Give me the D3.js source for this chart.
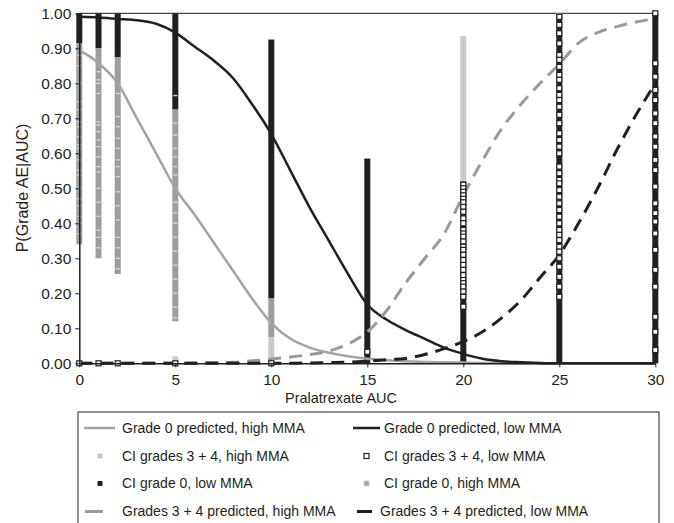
<!DOCTYPE html>
<html>
<head>
<meta charset="utf-8">
<script src="https://cdn.jsdelivr.net/npm/d3@7"></script>
<style>
  body { margin: 0; background: #fff; }
  svg { font-family: "Liberation Sans", Arial, sans-serif; }
  .axis text { font-size: 15.5px; fill: #231f20; }
  .axis path, .axis line { stroke: #231f20; }
</style>
</head>
<body>
<svg width="674" height="523"></svg>
<script>
// predicted curves, read at every whole AUC unit 0..30
var curveAuc = d3.range(0, 31);
var grade0HighPred = [0.895, 0.858, 0.80, 0.70, 0.60, 0.50, 0.425, 0.345, 0.265, 0.185, 0.115, 0.07, 0.045, 0.03, 0.02,
  0.013, 0.009, 0.006, 0.004, 0.003, 0.002, 0.001, 0.001, 0, 0, 0, 0, 0, 0, 0, 0];
var grade0LowPred = [0.99, 0.988, 0.984, 0.98, 0.97, 0.945, 0.905, 0.865, 0.815, 0.74, 0.655, 0.55, 0.445, 0.35, 0.255,
  0.168, 0.125, 0.095, 0.07, 0.045, 0.027, 0.013, 0.006, 0.003, 0.001, 0, 0, 0, 0, 0, 0];
var grade34HighPred = [0, 0, 0, 0, 0, 0, 0.001, 0.002, 0.003, 0.007, 0.012, 0.018, 0.025, 0.035, 0.055,
  0.09, 0.15, 0.23, 0.30, 0.37, 0.48, 0.58, 0.67, 0.74, 0.80, 0.855, 0.915, 0.945, 0.962, 0.975, 0.985];
var grade34LowPred = [0, 0, 0, 0, 0, 0, 0, 0, 0, 0, 0, 0, 0.001, 0.002, 0.003,
  0.006, 0.01, 0.014, 0.025, 0.042, 0.062, 0.09, 0.13, 0.18, 0.245, 0.31, 0.40, 0.50, 0.61, 0.71, 0.80];

// CI columns: [auc, low, high]
var ciGrade0Low = [[0, 0.915, 1], [1, 0.90, 1], [2, 0.875, 1], [5, 0.725, 1], [10, 0.185, 0.925],
  [15, 0, 0.585], [20, 0, 0.52], [25, 0, 1], [30, 0, 1]];
var ciGrade0High = [[0, 0.34, 0.915], [1, 0.30, 0.90], [2, 0.255, 0.875], [5, 0.12, 0.725], [10, 0.075, 0.185]];
var ciGrade34High = [[5, 0, 0.02], [10, 0.005, 0.075], [20, 0.52, 0.935], [25, 0.99, 1]];

// light marker edges showing inside the grey CI grade 0, high MMA columns: [auc, value]
var ci0HighEdgesAt0 = [0.88, 0.85, 0.80, 0.747, 0.724, 0.69, 0.676, 0.647, 0.624, 0.614, 0.581, 0.552, 0.538,
  0.50, 0.47, 0.45, 0.42, 0.40, 0.37];
var ci0HighEdgesAt1 = [0.833, 0.81, 0.80, 0.771, 0.69, 0.681, 0.662, 0.638, 0.619, 0.59, 0.562, 0.547,
  0.50, 0.46, 0.42, 0.38, 0.36, 0.33];
var ci0HighEdgesAt2 = [0.771, 0.705, 0.676, 0.643, 0.614, 0.581, 0.562, 0.533, 0.49, 0.45, 0.41, 0.36, 0.33, 0.30, 0.27];
var ci0HighEdgesAt5 = [0.765, 0.686, 0.652, 0.614, 0.59, 0.562, 0.538, 0.50, 0.46, 0.43, 0.40, 0.36, 0.32, 0.28,
  0.24, 0.20, 0.16, 0.13];

// CI grades 3 + 4, low MMA: single markers [auc, value]
var ci34LowBase = [[0, 0], [1, 0], [2, 0], [5, 0], [10, 0], [15, 0.033]];
var ci34LowAt20 = [0.51, 0.50, 0.49, 0.48, 0.47, 0.46, 0.447, 0.433, 0.414, 0.40, 0.381, 0.371, 0.362, 0.348,
  0.333, 0.324, 0.31, 0.295, 0.281, 0.267, 0.252, 0.238, 0.229, 0.219, 0.205, 0.19, 0.162];
var ci34LowAt25 = [0.99, 0.967, 0.943, 0.914, 0.881, 0.867, 0.847, 0.824, 0.81, 0.786, 0.767, 0.752, 0.733,
  0.71, 0.686, 0.657, 0.638, 0.619, 0.60, 0.562, 0.543, 0.524, 0.514, 0.495, 0.476, 0.457, 0.438, 0.419,
  0.40, 0.381, 0.367, 0.352, 0.333, 0.319, 0.30, 0.276, 0.247, 0.219, 0.19];
var ci34LowAt30 = [1.0, 0.857, 0.819, 0.781, 0.752, 0.714, 0.686, 0.648, 0.619, 0.581, 0.552, 0.505, 0.457,
  0.429, 0.405, 0.371, 0.324, 0.267, 0.219, 0.133, 0.09, 0.038];

var xTicks = [0, 5, 10, 15, 20, 25, 30];
var yTicks = [0, 0.1, 0.2, 0.3, 0.4, 0.5, 0.6, 0.7, 0.8, 0.9, 1.0];

var legendLeft = ["Grade 0 predicted, high MMA", "CI grades 3 + 4, high MMA", "CI grade 0, low MMA", "Grades 3 + 4 predicted, high MMA"];
var legendRight = ["Grade 0 predicted, low MMA", "CI grades 3 + 4, low MMA", "CI grade 0, high MMA", "Grades 3 + 4 predicted, low MMA"];

var ink = "#231f20";
var svg = d3.select("svg");

var x = d3.scaleLinear().domain([0, 30]).range([79.3, 655.3]);
var y = d3.scaleLinear().domain([0, 1]).range([363.3, 13.3]);

var colW = 6;

// top border at 1.00
svg.append("line")
  .attr("x1", x(0)).attr("x2", x(30))
  .attr("y1", y(1)).attr("y2", y(1))
  .attr("stroke", "#444").attr("stroke-width", 1.2);

function drawColumns(data, fill) {
  svg.append("g").selectAll("rect")
    .data(data)
    .enter().append("rect")
    .attr("x", function(d) { return x(d[0]) - colW / 2; })
    .attr("y", function(d) { return y(d[2]); })
    .attr("width", colW)
    .attr("height", function(d) { return Math.max(1.5, y(d[1]) - y(d[2])); })
    .attr("fill", fill);
}

drawColumns(ciGrade0Low, ink);
drawColumns(ciGrade0High, "#9d9d9d");
drawColumns(ciGrade34High, "#c9c9c9");

var edges = ci0HighEdgesAt0.map(function(v) { return [0, v]; })
  .concat(ci0HighEdgesAt1.map(function(v) { return [1, v]; }))
  .concat(ci0HighEdgesAt2.map(function(v) { return [2, v]; }))
  .concat(ci0HighEdgesAt5.map(function(v) { return [5, v]; }));

svg.append("g").selectAll("rect")
  .data(edges)
  .enter().append("rect")
  .attr("x", function(d) { return x(d[0]) - colW / 2 + 1; })
  .attr("y", function(d) { return y(d[1]) - 0.7; })
  .attr("width", colW - 2).attr("height", 1.4)
  .attr("fill", "#d6d6d6");

// predicted curves
var line = function(vals) {
  return d3.line()
    .x(function(d, i) { return x(curveAuc[i]); })
    .y(function(d) { return y(d); })
    .curve(d3.curveMonotoneX)(vals);
};

svg.append("path").attr("d", line(grade0HighPred))
  .attr("fill", "none").attr("stroke", "#a3a3a3").attr("stroke-width", 2.5);
svg.append("path").attr("d", line(grade0LowPred))
  .attr("fill", "none").attr("stroke", ink).attr("stroke-width", 2.5);
svg.append("path").attr("d", line(grade34HighPred))
  .attr("fill", "none").attr("stroke", "#9a9a9a").attr("stroke-width", 3)
  .attr("stroke-dasharray", "13,8");
svg.append("path").attr("d", line(grade34LowPred))
  .attr("fill", "none").attr("stroke", ink).attr("stroke-width", 3)
  .attr("stroke-dasharray", "13,8");

var ci34Low = ci34LowBase
  .concat(ci34LowAt20.map(function(v) { return [20, v]; }))
  .concat(ci34LowAt25.map(function(v) { return [25, v]; }))
  .concat(ci34LowAt30.map(function(v) { return [30, v]; }));

svg.append("g").selectAll("rect")
  .data(ci34Low)
  .enter().append("rect")
  .attr("x", function(d) { return x(d[0]) - 2.5; })
  .attr("y", function(d) { return y(d[1]) - 2.5; })
  .attr("width", 5).attr("height", 5)
  .attr("fill", "#fff").attr("stroke", ink).attr("stroke-width", 1.2);

// axes
svg.append("g")
  .attr("class", "axis")
  .attr("transform", "translate(0," + y(0) + ")")
  .call(d3.axisBottom(x).tickValues(xTicks).tickSize(4).tickSizeOuter(0))
  .call(function(g) { g.select(".domain").attr("stroke-width", 1.5); })
  .selectAll("text").attr("dy", "0.95em");

svg.append("g")
  .attr("class", "axis")
  .attr("transform", "translate(" + x(0) + ",0)")
  .call(d3.axisLeft(y).tickValues(yTicks).tickFormat(d3.format(".2f")).tickSize(4).tickSizeOuter(0))
  .call(function(g) { g.select(".domain").attr("stroke-width", 1.5); })
  .selectAll("text").attr("x", -8);

svg.append("text")
  .attr("x", 341).attr("y", 403)
  .attr("text-anchor", "middle")
  .attr("font-size", 14.5).attr("fill", ink)
  .text("Pralatrexate AUC");

svg.append("text")
  .attr("transform", "translate(28,188) rotate(-90)")
  .attr("text-anchor", "middle")
  .attr("font-size", 16).attr("fill", ink)
  .text("P(Grade AE|AUC)");

// legend
var lg = svg.append("g");
lg.append("rect")
  .attr("x", 78).attr("y", 412).attr("width", 581).attr("height", 130)
  .attr("fill", "none").attr("stroke", ink).attr("stroke-width", 1);

var rowY = [428, 456, 483.5, 511.5];

lg.selectAll(".tl").data(legendLeft).enter().append("text")
  .attr("x", 122).attr("y", function(d, i) { return rowY[i]; })
  .attr("dy", "0.35em").attr("font-size", 14).attr("fill", ink)
  .text(function(d) { return d; });
lg.selectAll(".tr").data(legendRight).enter().append("text")
  .attr("x", function(d, i) { return i === 3 ? 380 : 384; })
  .attr("y", function(d, i) { return rowY[i]; })
  .attr("dy", "0.35em").attr("font-size", 14).attr("fill", ink)
  .text(function(d) { return d; });

// legend keys
lg.append("line").attr("x1", 84).attr("x2", 115).attr("y1", rowY[0]).attr("y2", rowY[0])
  .attr("stroke", "#a3a3a3").attr("stroke-width", 2.5);
lg.append("line").attr("x1", 353).attr("x2", 380).attr("y1", rowY[0]).attr("y2", rowY[0])
  .attr("stroke", ink).attr("stroke-width", 2.5);
lg.append("rect").attr("x", 97.5).attr("y", rowY[1] - 2.5).attr("width", 5).attr("height", 5)
  .attr("fill", "#c9c9c9");
lg.append("rect").attr("x", 364).attr("y", rowY[1] - 2.5).attr("width", 5).attr("height", 5)
  .attr("fill", "#fff").attr("stroke", ink).attr("stroke-width", 1.2);
lg.append("rect").attr("x", 97.5).attr("y", rowY[2] - 2.5).attr("width", 5).attr("height", 5)
  .attr("fill", ink);
lg.append("rect").attr("x", 364).attr("y", rowY[2] - 2.5).attr("width", 5).attr("height", 5)
  .attr("fill", "#9d9d9d").attr("stroke", "#cfcfcf").attr("stroke-width", 1);
lg.append("line").attr("x1", 85).attr("x2", 103).attr("y1", rowY[3]).attr("y2", rowY[3])
  .attr("stroke", "#9a9a9a").attr("stroke-width", 3);
lg.append("line").attr("x1", 357).attr("x2", 372).attr("y1", rowY[3]).attr("y2", rowY[3])
  .attr("stroke", ink).attr("stroke-width", 3);
</script>
</body>
</html>
